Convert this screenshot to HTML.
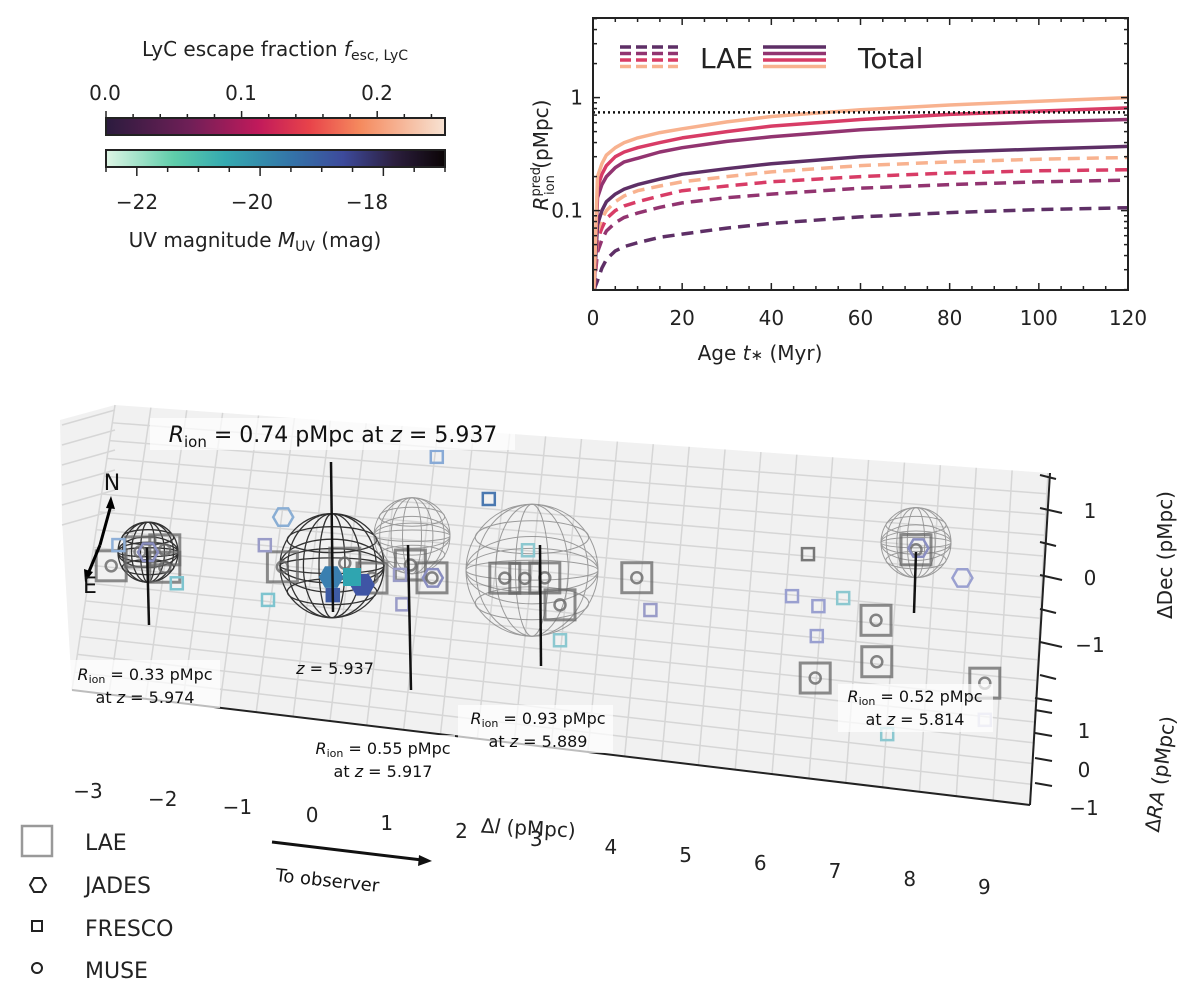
<!DOCTYPE html>
<html><head><meta charset="utf-8"><style>
html,body{margin:0;padding:0;background:#fff}
svg{display:block;font-family:"DejaVu Sans","Liberation Sans",sans-serif}
</style></head><body>
<svg id="fig" width="1200" height="997" viewBox="0 0 1200 997" xmlns="http://www.w3.org/2000/svg">
<defs>
<linearGradient id="rocket" x1="0" x2="1" y1="0" y2="0">
<stop offset="0" stop-color="#2b1b3e"/><stop offset="0.25" stop-color="#701f57"/><stop offset="0.45" stop-color="#c11a5b"/><stop offset="0.6" stop-color="#e8434a"/><stop offset="0.75" stop-color="#f58a5e"/><stop offset="1" stop-color="#f7e3d3"/></linearGradient>
<linearGradient id="mako" x1="0" x2="1" y1="0" y2="0">
<stop offset="0" stop-color="#def5e5"/><stop offset="0.2" stop-color="#5fcdaa"/><stop offset="0.35" stop-color="#35aab0"/><stop offset="0.55" stop-color="#3473a8"/><stop offset="0.7" stop-color="#3d4a9b"/><stop offset="0.85" stop-color="#2c1f3f"/><stop offset="1" stop-color="#0b0405"/></linearGradient>
</defs>

<!-- colorbars -->
<g>
<text x="275" y="56" font-size="20" text-anchor="middle" fill="#222">LyC escape fraction <tspan font-style="italic">f</tspan><tspan font-size="14" dy="4">esc, LyC</tspan></text>
<text x="105" y="100" font-size="20" text-anchor="middle" fill="#222">0.0</text>
<text x="241" y="100" font-size="20" text-anchor="middle" fill="#222">0.1</text>
<text x="377" y="100" font-size="20" text-anchor="middle" fill="#222">0.2</text>
<rect x="106" y="118" width="339" height="17" fill="url(#rocket)" stroke="#222" stroke-width="2"/>
<rect x="106" y="150" width="339" height="17" fill="url(#mako)" stroke="#222" stroke-width="2"/>
<g id="cbticks" stroke="#222" stroke-width="1.5"></g>
<text x="137" y="209" font-size="20" text-anchor="middle" fill="#222">−22</text>
<text x="252" y="209" font-size="20" text-anchor="middle" fill="#222">−20</text>
<text x="367" y="209" font-size="20" text-anchor="middle" fill="#222">−18</text>
<text x="255" y="247" font-size="20" text-anchor="middle" fill="#222">UV magnitude <tspan font-style="italic">M</tspan><tspan font-size="14" dy="4">UV</tspan><tspan dy="-4"> (mag)</tspan></text>
</g>

<!-- top-right chart -->
<g id="rchart">
<rect x="593" y="18" width="535" height="272" fill="#fff"/>
<g id="rlines"></g>
<g id="rticks" stroke="#222"></g>
<rect x="593" y="18" width="535" height="272" fill="none" stroke="#222" stroke-width="2"/>
<g id="legend-top"></g>
<text x="760" y="360" font-size="20" text-anchor="middle" fill="#222">Age <tspan font-style="italic">t</tspan><tspan font-size="15">∗</tspan> (Myr)</text>
<text transform="translate(548,155) rotate(-90)" font-size="20" text-anchor="middle" fill="#222"><tspan font-style="italic">R</tspan><tspan font-size="13" dy="-8">pred</tspan><tspan font-size="13" dx="-28" dy="14">ion</tspan><tspan dy="-6"> (pMpc)</tspan></text>
</g>

<!-- 3D panel -->
<g id="panel3d">
<polygon points="60,420 115,405 1048,473 1030,805 72,690 62,520" fill="#f1f1f1"/>
<g id="grid3d" stroke="#d6d6d6" stroke-width="1.5"></g>
<line x1="72" y1="690" x2="1030" y2="805" stroke="#222" stroke-width="2"/>
<line x1="1050" y1="473" x2="1030" y2="805" stroke="#222" stroke-width="2"/>
<g id="rtick3d" stroke="#222" stroke-width="2"></g>
<g id="spheres"></g>
<g id="marks3d"></g>
<g id="annot" stroke="#111" stroke-width="2.5"></g>
</g>
<g id="labels3d" font-size="16" fill="#111" text-anchor="middle">
<rect x="150" y="418" width="365" height="32" fill="#fff" opacity="0.7"/>
<text x="333" y="442" font-size="22" text-anchor="middle"><tspan font-style="italic">R</tspan><tspan font-size="15" dy="5">ion</tspan><tspan dy="-5"> = 0.74 pMpc at </tspan><tspan font-style="italic">z</tspan> = 5.937</text>
<rect x="70" y="660" width="150" height="48" fill="#fff" opacity="0.7"/>
<text x="145" y="680"><tspan font-style="italic">R</tspan><tspan font-size="11" dy="3">ion</tspan><tspan dy="-3"> = 0.33 pMpc</tspan></text>
<text x="145" y="703">at <tspan font-style="italic">z</tspan> = 5.974</text>
<text x="335" y="674"><tspan font-style="italic">z</tspan> = 5.937</text>
<rect x="305" y="735" width="150" height="48" fill="#fff" opacity="0.7"/>
<text x="383" y="754"><tspan font-style="italic">R</tspan><tspan font-size="11" dy="3">ion</tspan><tspan dy="-3"> = 0.55 pMpc</tspan></text>
<text x="383" y="777">at <tspan font-style="italic">z</tspan> = 5.917</text>
<rect x="458" y="705" width="155" height="48" fill="#fff" opacity="0.7"/>
<text x="538" y="724"><tspan font-style="italic">R</tspan><tspan font-size="11" dy="3">ion</tspan><tspan dy="-3"> = 0.93 pMpc</tspan></text>
<text x="538" y="747">at <tspan font-style="italic">z</tspan> = 5.889</text>
<rect x="838" y="684" width="155" height="48" fill="#fff" opacity="0.7"/>
<text x="915" y="702"><tspan font-style="italic">R</tspan><tspan font-size="11" dy="3">ion</tspan><tspan dy="-3"> = 0.52 pMpc</tspan></text>
<text x="915" y="725">at <tspan font-style="italic">z</tspan> = 5.814</text>
</g>
<g id="compass">
<line x1="100" y1="545" x2="111" y2="505" stroke="#000" stroke-width="3"/>
<polygon points="111,496 106,508 115,509" fill="#000"/>
<line x1="100" y1="545" x2="88" y2="574" stroke="#000" stroke-width="3"/>
<polygon points="85,582 84,569 93,572" fill="#000"/>
<text x="112" y="490" font-size="22" text-anchor="middle" fill="#111">N</text>
<text x="90" y="593" font-size="22" text-anchor="middle" fill="#111">E</text>
</g>
<g id="axlabels3d" font-size="20" fill="#222" text-anchor="middle"></g>
<text x="528" y="835" font-size="20" text-anchor="middle" fill="#222" transform="rotate(3,528,835)">Δ<tspan font-style="italic">l</tspan> (pMpc)</text>
<text transform="translate(1172,555) rotate(-90)" font-size="20" text-anchor="middle" fill="#222">ΔDec (pMpc)</text>
<text transform="translate(1167,775) rotate(-82)" font-size="20" text-anchor="middle" fill="#222">Δ<tspan font-style="italic">RA</tspan> (pMpc)</text>

<g>
<line x1="272" y1="842" x2="422" y2="860" stroke="#111" stroke-width="3"/>
<polygon points="432,861 419,855 418,866" fill="#111"/>
<text x="275" y="881" font-size="18" fill="#111" transform="rotate(6,275,881)">To observer</text>
</g>
<g font-size="22" fill="#222">
<rect x="22" y="826" width="30" height="30" fill="none" stroke="#999" stroke-width="2.5"/>
<text x="85" y="850">LAE</text>
<polygon points="30,885 34,878 42,878 46,885 42,892 34,892" fill="none" stroke="#222" stroke-width="2"/>
<text x="85" y="893">JADES</text>
<rect x="32" y="921" width="10" height="10" fill="none" stroke="#222" stroke-width="2"/>
<text x="85" y="936">FRESCO</text>
<circle cx="37" cy="968" r="5" fill="none" stroke="#222" stroke-width="2"/>
<text x="85" y="978">MUSE</text>
</g>
</svg>
<script>
// ---- top chart data ----
const ages = [0.2, 1, 2, 3, 5, 7, 10, 15, 20, 30, 40, 60, 80, 100, 120];
const totalOrange = [0.019,0.20,0.26,0.31,0.36,0.40,0.44,0.49,0.53,0.61,0.68,0.78,0.86,0.93,1.0];
const totalRed    = [0.019,0.16,0.21,0.25,0.30,0.33,0.36,0.40,0.44,0.50,0.56,0.64,0.71,0.76,0.81];
const totalPurple = [0.019,0.13,0.17,0.20,0.24,0.27,0.29,0.33,0.36,0.41,0.45,0.52,0.57,0.61,0.64];
const totalDark   = [0.019,0.075,0.10,0.12,0.14,0.155,0.17,0.19,0.21,0.235,0.26,0.30,0.33,0.35,0.37];
const laeOrange = [0.019,0.065,0.085,0.10,0.12,0.135,0.15,0.165,0.18,0.20,0.22,0.25,0.27,0.285,0.295];
const laeRed    = [0.019,0.055,0.07,0.085,0.10,0.11,0.12,0.135,0.15,0.165,0.18,0.20,0.215,0.225,0.23];
const laePurple = [0.019,0.043,0.055,0.066,0.078,0.087,0.095,0.107,0.117,0.13,0.14,0.158,0.17,0.18,0.186];
const laeDark   = [0.019,0.024,0.031,0.037,0.044,0.048,0.052,0.058,0.062,0.07,0.077,0.088,0.096,0.102,0.106];
const rionRef = 0.74;
const xTicks = [0, 20, 40, 60, 80, 100, 120];
const yTickLabels = ["0.1", "1"];

// ---- 3D scatter data (Δl, ΔDec) ----
const laeL   = [-2.86,-2.19,-2.19,-2.5,-0.72,0.06,0.4,0.88,1.15,2.06,2.31,2.56,2.75,3.71,6.7,7.2,5.94,6.71,8.06];
const laeDec = [-0.09,-0.08,0.21,0.16,0,0.1,-0.13,0.11,-0.09,-0.05,-0.04,-0.02,-0.46,0.04,-0.52,0.68,-1.52,-1.21,-1.5];
const frL   = [1.21,1.86,-2.77,-2.04,-0.9,-0.94,-0.09,0.75,0.78,3.88,2.75,5.65,5.98,6.29,5.96,5.85,8.06,6.84,2.35];
const frDec = [1.93,1.26,0.26,-0.34,-0.56,0.35,-0.44,-0.06,-0.55,-0.49,-1.05,-0.17,-0.32,-0.17,-0.82,0.54,-2.11,-2.41,0.43];
const frCol = ["#88aad6","#4a78b0","#8fb0d8","#7ec4cf","#7ec4cf","#9a9cc8","#3e5ba4","#9a9cc8","#9a9cc8","#9a9cc8","#8cc8d0","#9aa0d0","#9aa0d0","#8cc8d0","#9aa0d0","#777777","#c8c8e0","#8cc8d0","#8cc8d0"];
const jdL   = [-0.71,7.78,1.16,7.23,-0.11,0.28,-2.4];
const jdDec = [0.83,0.24,-0.09,0.71,-0.14,-0.25,0.16];
const jdCol = ["#8aaed4","#9aa0d0","#8a8ec0","#8a8ec0","#3a7fb0","#3f55a5","#8a8ec0"];
const jdFill= [0,0,0,0,1,1,0];
const sphL = [-2.4,-0.1,0.9,2.4,7.2];
const sphDec = [0.16,0.05,0.6,0.1,0.8];
const sphR = [30,52,38,66,35];

const NS='http://www.w3.org/2000/svg';
function mk(tag, attrs, parent){const e=document.createElementNS(NS,tag);for(const k in attrs)e.setAttribute(k,attrs[k]);parent.appendChild(e);return e;}

// axis functions
const X0=593, X1=1128, YDEC=113, Y1=97.6;
function xs(t){return X0+(t/120)*(X1-X0);}
function ys(v){return Y1-Math.log10(v)*YDEC;}

const rl=document.getElementById('rlines');
function drawCurve(vals,col,dash,name){
  let d='';
  ages.forEach((a,i)=>{d+=(i?'L':'M')+xs(a).toFixed(1)+','+Math.max(18,Math.min(290,ys(vals[i]))).toFixed(1);});
  const p=mk('path',{d:d,fill:'none',stroke:col,'stroke-width':3.5,'stroke-linejoin':'round','stroke-dasharray':dash||'none'},rl);
  
  
}
const cO='#f8b28f',cR='#d83c66',cP='#923470',cD='#5e2f66';
drawCurve(laeDark,cD,'12,7','lae-curve-dark');
drawCurve(laePurple,cP,'12,7','lae-curve-purple');
drawCurve(laeRed,cR,'12,7','lae-curve-red');
drawCurve(laeOrange,cO,'12,7','lae-curve-orange');
drawCurve(totalDark,cD,null,'total-curve-dark');
drawCurve(totalPurple,cP,null,'total-curve-purple');
drawCurve(totalRed,cR,null,'total-curve-red');
drawCurve(totalOrange,cO,null,'total-curve-orange');
const refl=mk('line',{x1:X0,x2:X1,y1:ys(rionRef),y2:ys(rionRef),stroke:'#111','stroke-width':2.5,'stroke-dasharray':'2,3'},rl);



const rt=document.getElementById('rticks');
const rc=document.getElementById('rchart');
for(let t=0;t<=120;t+=5){const big=t%20===0;const x=xs(t);
  mk('line',{x1:x,x2:x,y1:290,y2:290-(big?7:4),'stroke-width':1.5},rt);
  mk('line',{x1:x,x2:x,y1:18,y2:18+(big?7:4),'stroke-width':1.5},rt);}
xTicks.forEach(t=>{const tx=mk('text',{x:xs(t),y:325,'font-size':20,'text-anchor':'middle',fill:'#222'},rc);tx.textContent=t;});
[0.02,0.03,0.04,0.05,0.06,0.07,0.08,0.09,0.1,0.2,0.3,0.4,0.5,0.6,0.7,0.8,0.9,1,2,3,4,5].forEach(v=>{const y=ys(v);if(y<18||y>290)return;const big=(v===0.1||v===1);
  mk('line',{x1:X0,x2:X0+(big?7:4),y1:y,y2:y,'stroke-width':1.5},rt);
  mk('line',{x1:X1,x2:X1-(big?7:4),y1:y,y2:y,'stroke-width':1.5},rt);});
yTickLabels.forEach(s=>{const tx=mk('text',{x:583,y:ys(parseFloat(s))+7,'font-size':20,'text-anchor':'end',fill:'#222'},rc);tx.textContent=s;});

// legend
const lg=document.getElementById('legend-top');
[cD,cP,cR,cO].forEach((c,i)=>{const y=47+i*6.5;
  mk('line',{x1:620,x2:678,y1:y,y2:y,stroke:c,'stroke-width':3.5,'stroke-dasharray':'11,5'},lg);
  mk('line',{x1:763,x2:826,y1:y,y2:y,stroke:c,'stroke-width':3.5},lg);});
let t1=mk('text',{x:700,y:68,'font-size':28,fill:'#222'},lg);t1.textContent='LAE';
let t2=mk('text',{x:858,y:68,'font-size':28,fill:'#222'},lg);t2.textContent='Total';

// colorbar ticks
const cbt=document.getElementById('cbticks');
for(let i=0;i<=12;i++){const v=i*0.02;const xx=106+v/0.25*339;if(xx>445)break;
  mk('line',{x1:xx,x2:xx,y1:118,y2:118-(i%5===0?7:4)},cbt);}
for(let m=-22.5;m<=-17;m+=0.5){const xx=106+(m+22.5)/5.5*339;mk('line',{x1:xx,x2:xx,y1:167,y2:167+(Math.abs(m-Math.round(m))<0.01&&Math.round(m)%2===0?9:5)},cbt);}

// 3D grid
const g3=document.getElementById('grid3d');
const TL=[115,405],TR=[1048,473],FL=[72,690],FR=[1030,805];
function lerp(a,b,t){return [a[0]+(b[0]-a[0])*t,a[1]+(b[1]-a[1])*t];}
for(let i=0;i<=26;i++){const t=i/26;const a=lerp(TL,TR,t),b=lerp(FL,FR,t);mk('line',{x1:a[0],y1:a[1],x2:b[0],y2:b[1]},g3);}
for(let j=1;j<16;j++){const t=j/16;const a=lerp(TL,FL,t),b=lerp(TR,FR,t);mk('line',{x1:a[0],y1:a[1],x2:b[0],y2:b[1]},g3);}
for(let j=0;j<6;j++){mk('line',{x1:62,y1:425+j*20,x2:115,y2:410+j*20},g3);}

// 3D projection
function px(l){return 100+(l+3)*80;}
function py(l,d){return 560+(l+3)*3-d*60;}

// spheres
const sp=document.getElementById('spheres');
sphL.forEach((l,i)=>{const cx=px(l),cy=py(l,sphDec[i]),r=sphR[i];
  const g=mk('g',{fill:'none',stroke:i<2?'#111':'#777','stroke-width':i<2?1.3:1,opacity:i<2?0.85:0.7},sp);
  
  
  mk('circle',{cx:cx,cy:cy,r:r},g);
  [0.25,0.55,0.85].forEach(f=>{mk('ellipse',{cx:cx,cy:cy,rx:r*f,ry:r},g);mk('ellipse',{cx:cx,cy:cy,rx:r,ry:r*f*0.6},g);});
  mk('ellipse',{cx:cx,cy:cy-r*0.5,rx:r*0.86,ry:r*0.25},g);
  mk('ellipse',{cx:cx,cy:cy+r*0.5,rx:r*0.86,ry:r*0.25},g);
});

// markers
const m3=document.getElementById('marks3d');
laeL.forEach((l,i)=>{const x=px(l),y=py(l,laeDec[i]);
  const r=mk('rect',{x:x-15,y:y-15,width:30,height:30,fill:'none',stroke:'#666','stroke-width':3,opacity:0.75},m3);
  
  
  const c=mk('circle',{cx:x,cy:y,r:5.5,fill:'none',stroke:'#666','stroke-width':2.5,opacity:0.8},m3);
  
  
});
frL.forEach((l,i)=>{const x=px(l),y=py(l,frDec[i]);
  const r=mk('rect',{x:x-6,y:y-6,width:12,height:12,fill:i===6?frCol[i]:'none',stroke:frCol[i],'stroke-width':2.5},m3);
  
  
});
jdL.forEach((l,i)=>{const x=px(l),y=py(l,jdDec[i]);const s=jdFill[i]?11:10;
  const pts=[[-s,0],[-s/2,-s*0.87],[s/2,-s*0.87],[s,0],[s/2,s*0.87],[-s/2,s*0.87]].map(p=>(x+p[0])+','+(y+p[1])).join(' ');
  const h=mk('polygon',{points:pts,fill:jdFill[i]?jdCol[i]:'none',stroke:jdCol[i],'stroke-width':2.5},m3);
  
  
});
mk('rect',{x:343,y:568,width:18,height:18,fill:'#2fa5b0'},m3);

// annotation lines
const an=document.getElementById('annot');
[[147,548,149,625],[331,462,333,612],[408,545,411,690],[540,545,541,666],[916,552,914,613]].forEach(a=>mk('line',{x1:a[0],y1:a[1],x2:a[2],y2:a[3]},an));

// right axis ticks & labels
const rt3=document.getElementById('rtick3d');
const al=document.getElementById('axlabels3d');
[[1,511],[0,578],[-1,645]].forEach(d=>{mk('line',{x1:1040,y1:d[1]-3,x2:1062,y2:d[1]+2},rt3);const t=mk('text',{x:1090,y:d[1]+7},al);t.textContent=d[0]===0?'0':(d[0]>0?'1':'−1');});
[478,545,612,678].forEach(y=>mk('line',{x1:1040,y1:y-3,x2:1056,y2:y+1},rt3));
[[1,731],[0,770],[-1,808]].forEach(d=>{const t=mk('text',{x:1084,y:d[1]+7},al);t.textContent=d[0]===0?'0':(d[0]>0?'1':'−1');});
[700,712,735,760,785].forEach(y=>mk('line',{x1:1035,y1:y-2,x2:1052,y2:y+1},rt3));
const lt=['−3','−2','−1','0','1','2','3','4','5','6','7','8','9'];
lt.forEach((s,i)=>{const t=mk('text',{x:88+i*74.7,y:798+i*8},al);t.textContent=s;});
</script>
</body></html>
